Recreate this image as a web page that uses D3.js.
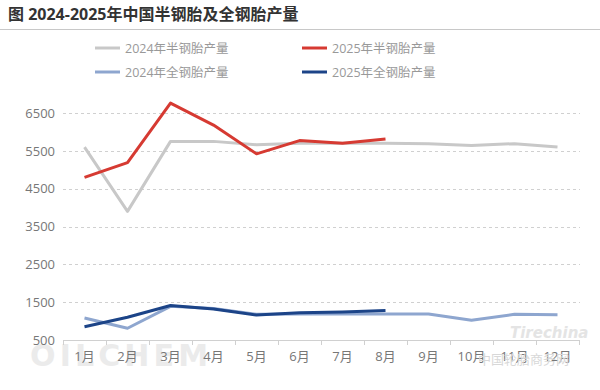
<!DOCTYPE html>
<html><head><meta charset="utf-8">
<script src="https://cdn.jsdelivr.net/npm/d3@7"></script>
<style>body{margin:0;background:#fff;}svg{display:block;}</style>
</head><body>
<svg id="c" width="600" height="390"></svg>
<script>
const months = ["1月","2月","3月","4月","5月","6月","7月","8月","9月","10月","11月","12月"];
const yTicks = [500,1500,2500,3500,4500,5500,6500];
const semi2024 = [5600,3900,5750,5750,5660,5700,5700,5700,5690,5640,5690,5600];
const semi2025 = [4800,5190,6760,6180,5420,5770,5700,5810];
const all2024 = [1080,810,1390,1330,1180,1190,1190,1190,1190,1020,1180,1170];
const all2025 = [850,1100,1410,1320,1160,1220,1240,1280];
const seriesNames = ["2024年半钢胎产量","2025年半钢胎产量","2024年全钢胎产量","2025年全钢胎产量"];
const colors = ["#c8c8c8","#d63a32","#8ea6cf","#1c4488"];
const title = "图 2024-2025年中国半钢胎及全钢胎产量";

const svg = d3.select("#c");
const font = "'Open Sans','Noto Sans CJK SC',sans-serif";
const x = d3.scaleBand().domain(months).range([63,579]);
const y = d3.scaleLinear().domain([500,6500]).range([340,113]);

svg.append("text").attr("x",8).attr("y",20).attr("font-family",font)
  .attr("font-size",16).attr("font-weight","bold").attr("fill","#333").text(title);
svg.append("line").attr("x1",0).attr("x2",600).attr("y1",29.5).attr("y2",29.5)
  .attr("stroke","#c8c8c8").attr("stroke-width",1);

// watermark
svg.append("text").attr("x",30).attr("y",366).attr("font-family","'DejaVu Sans',sans-serif")
  .attr("font-size",30).attr("font-weight","bold").attr("fill","#ebebeb").attr("textLength",178).text("OILCHEM");

// grid
svg.append("g").selectAll("line").data(yTicks.slice(1)).join("line")
  .attr("x1",63).attr("x2",580).attr("y1",d=>Math.round(y(d))+0.5).attr("y2",d=>Math.round(y(d))+0.5)
  .attr("stroke","#d0d0d0").attr("stroke-dasharray","3,3");

// y axis labels
const ya = svg.append("g").attr("transform","translate(63,0)")
  .call(d3.axisLeft(y).tickValues(yTicks).tickFormat(d3.format("d")).tickSize(0).tickPadding(8));
ya.select(".domain").remove();
ya.selectAll("text").attr("font-family",font).attr("font-size",13).attr("fill","#777");

// x axis
const xa = svg.append("g").attr("transform","translate(0,340)")
  .call(d3.axisBottom(x).tickSize(0).tickPadding(12));
xa.select(".domain").attr("stroke","#d0d0d0");
xa.selectAll("text").attr("font-family",font).attr("font-size",13).attr("fill","#777");
svg.append("g").selectAll("line").data(d3.range(months.length+1)).join("line")
  .attr("x1",i=>Math.round(63+i*x.step())+0.5).attr("x2",i=>Math.round(63+i*x.step())+0.5)
  .attr("y1",340).attr("y2",345).attr("stroke","#d0d0d0");

// watermark right
svg.append("text").attr("x",478).attr("y",364).attr("font-family","'Noto Sans CJK SC',sans-serif")
  .attr("font-size",13).attr("fill","#d8d8d8").text("中国轮胎商务网");
svg.append("text").attr("x",510).attr("y",338).attr("font-family","'DejaVu Sans',sans-serif")
  .attr("font-size",15).attr("font-style","italic").attr("font-weight","bold").attr("fill","#e4e4e4").text("Tirechina");

const line = d3.line().x((d,i)=>x(months[i])+x.bandwidth()/2).y(d=>y(d));
const data = [semi2024,semi2025,all2024,all2025];
[0,2,1,3].forEach(k=>{
  svg.append("path").datum(data[k]).attr("d",line).attr("fill","none")
    .attr("stroke",colors[k]).attr("stroke-width",3).attr("stroke-linejoin","round");
});

// legend
const lx = [95,302], ly = [48,72];
seriesNames.forEach((n,i)=>{
  const cx = lx[i%2], cy = ly[Math.floor(i/2)];
  const g = svg.append("g");
  g.append("line").attr("x1",cx).attr("x2",cx+25).attr("y1",cy).attr("y2",cy)
    .attr("stroke",colors[i]).attr("stroke-width",3);
  g.append("text").attr("x",cx+30).attr("y",cy+4.5).attr("font-family",font)
    .attr("font-size",12.5).attr("fill","#999").text(n);
});
</script>
</body></html>
